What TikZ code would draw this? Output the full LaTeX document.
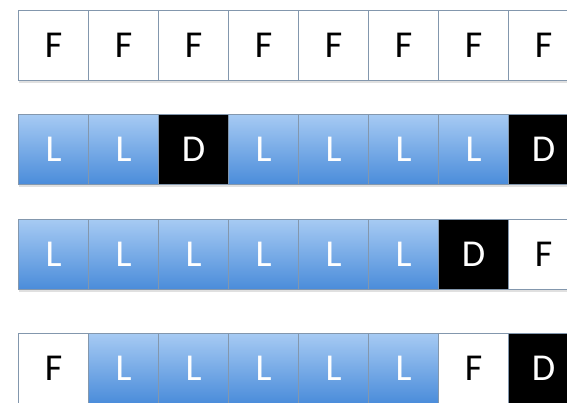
\documentclass[tikz,border=0pt]{standalone}
\usepackage{fontspec}
\setmainfont{Carlito}
\usetikzlibrary{positioning}
\definecolor{celltop}{HTML}{A6CAF3}
\definecolor{cellbot}{HTML}{4A8CDA}
\definecolor{celledge}{HTML}{8397AD}
\tikzset{
cell/.style={draw=celledge, line width=1.2pt, minimum width=70pt, minimum height=70pt,
  inner sep=0pt, anchor=north west, font=\fontsize{38}{38}\selectfont},
cellF/.style={cell, fill=white, text=black},
cellL/.style={cell, top color=celltop, bottom color=cellbot, text=white},
cellD/.style={cell, fill=black, text=white}
}
\begin{document}
\begin{tikzpicture}[x=1pt,y=-1pt]
\useasboundingbox (0,0) rectangle (567,402);
\foreach \row/\top/\cells in {
  1/10/{F,F,F,F,F,F,F,F},
  2/114/{L,L,D,L,L,L,L,D},
  3/219/{L,L,L,L,L,L,D,F},
  4/333/{F,L,L,L,L,L,F,D}}
{
  % faint shadow under each row
  \fill[black!12] (19,\top+71) rectangle (580,\top+73);
  \foreach \c [count=\i] in \cells
    \node[cell\c] (r\row c\i) at ({18+70*(\i-1)},\top) {\c};
}
\end{tikzpicture}
\end{document}
